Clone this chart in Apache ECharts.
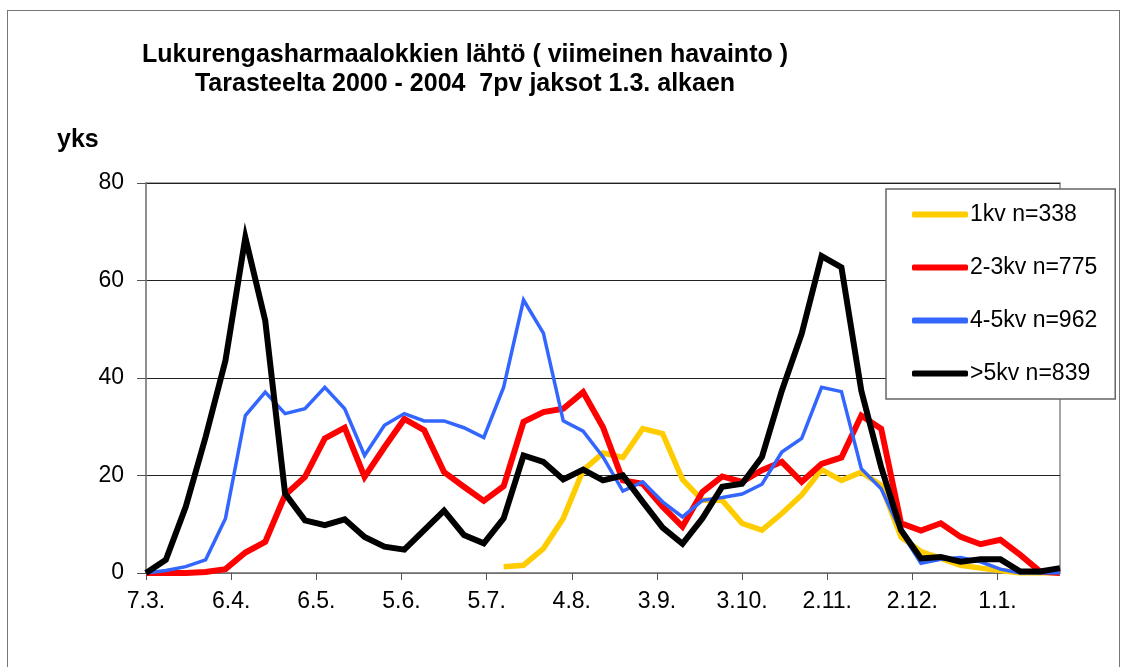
<!DOCTYPE html>
<html>
<head>
<meta charset="utf-8">
<script src="https://cdn.jsdelivr.net/npm/echarts@6/dist/echarts.min.js"></script>
<style>
    body { margin: 0; background: #fff; }
    #frame { position: absolute; left: 7px; top: 10px; width: 1113px; height: 700px; border: 1.5px solid #777; box-sizing: border-box; }
    #chart { position: absolute; left: 0; top: 0; width: 1129px; height: 667px; }
</style>
</head>
<body>
<div id="frame"></div>
<div id="chart"></div>
<script>
    // viikkojaksot, x = päivää 7.3. jälkeen
    var weekCount = 47;
    var tickLabels = ['7.3.', '6.4.', '6.5.', '5.6.', '5.7.', '4.8.', '3.9.', '3.10.', '2.11.', '2.12.', '1.1.'];
    var seriesNames = ['1kv n=338', '2-3kv n=775', '4-5kv n=962', '>5kv n=839'];

    // 1kv alkaa vasta viikolla 18
    var kv1 = [null, null, null, null, null, null, null, null, null, null, null, null, null, null, null, null, null, null,
        1.3, 1.6, 5.0, 11.2, 21.1, 24.6, 23.7, 29.6, 28.6, 19.2, 14.9, 14.9, 10.2, 8.8, 12.2, 16.0, 21.2, 19.0,
        20.7, 18.0, 7.4, 4.4, 3.0, 1.6, 1.0, 0.5, 0, 0, 0];
    var kv23 = [0, 0, 0, 0.2, 0.8, 4.2, 6.4, 16.0, 19.7, 27.6, 29.8, 19.7, 25.8, 31.6, 29.3, 20.7, 17.7, 14.8,
        17.8, 31.0, 33.0, 33.7, 37.1, 29.9, 19.0, 18.3, 13.6, 9.5, 16.6, 19.8, 18.7, 21.1, 22.8, 18.7, 22.4, 23.7,
        32.3, 29.6, 10.2, 8.7, 10.2, 7.4, 5.9, 6.8, 3.7, 0.3, 0];
    var kv45 = [0, 0.5, 1.3, 2.7, 11.2, 32.3, 37.1, 32.7, 33.7, 38.1, 33.7, 24.1, 30.3, 32.7, 31.2, 31.2, 29.8, 27.8,
        38.1, 56.0, 49.2, 31.2, 29.1, 23.8, 16.8, 18.7, 14.6, 11.5, 14.9, 15.5, 16.2, 18.2, 24.8, 27.6, 38.1, 37.2,
        21.4, 17.3, 8.5, 2.0, 2.8, 3.2, 2.3, 0.8, 0, 0, 0];
    var kv5 = [0, 2.7, 13.6, 27.9, 43.6, 68.8, 51.8, 16.3, 10.8, 9.8, 11.0, 7.4, 5.4, 4.8, 8.8, 12.8, 7.8, 6.1,
        11.2, 24.1, 22.8, 19.2, 21.2, 19.0, 20.0, 14.6, 9.3, 6.0, 11.2, 17.7, 18.3, 23.8, 37.4, 49.1, 65.0, 62.7,
        37.4, 21.7, 8.8, 3.0, 3.3, 2.3, 2.8, 2.8, 0.3, 0.3, 1.0];

    var fontName = 'Liberation Sans, Arial, sans-serif';

    function toPoints(arr) {
        return arr.map(function (v, i) {
            return [i * 7, v];
        });
    }

    function makeSeries(name, arr, color, width) {
        return {
            name: name,
            type: 'line',
            data: toPoints(arr),
            symbol: 'none',
            connectNulls: false,
            lineStyle: { color: color, width: width, join: 'miter' },
            itemStyle: { color: color },
            emphasis: { disabled: true },
            animation: false
        };
    }

    var chart = echarts.init(document.getElementById('chart'), null, { renderer: 'canvas' });

    var option = {
        backgroundColor: 'transparent',
        animation: false,
        textStyle: { fontFamily: fontName, color: '#000' },
        graphic: [
            {
                type: 'text', x: 465, y: 55,
                style: {
                    text: 'Lukurengasharmaalokkien lähtö ( viimeinen havainto )',
                    font: 'bold 25px ' + fontName, fill: '#000', align: 'center', verticalAlign: 'middle'
                }
            },
            {
                type: 'text', x: 465, y: 84,
                style: {
                    text: 'Tarasteelta 2000 - 2004  7pv jaksot 1.3. alkaen',
                    font: 'bold 25px ' + fontName, fill: '#000', align: 'center', verticalAlign: 'middle'
                }
            },
            {
                type: 'text', x: 57, y: 140,
                style: {
                    text: 'yks',
                    font: 'bold 25px ' + fontName, fill: '#000', align: 'left', verticalAlign: 'middle'
                }
            }
        ],
        legend: {
            orient: 'vertical',
            left: 886,
            top: 189,
            padding: [14, 18, 14, 26],
            itemGap: 30,
            itemWidth: 56,
            itemHeight: 6,
            icon: 'roundRect',
            backgroundColor: '#fff',
            borderColor: '#666',
            borderWidth: 1.5,
            textStyle: { fontSize: 23, lineHeight: 22, color: '#000', fontFamily: fontName, padding: [0, 0, 0, -3] },
            data: seriesNames
        },
        grid: { left: 146, right: 69, top: 183, bottom: 94, show: true, borderColor: '#888', borderWidth: 1.5 },
        xAxis: {
            type: 'value',
            min: 0,
            max: (weekCount - 1) * 7,
            interval: 30,
            axisLine: { show: true, lineStyle: { color: '#888', width: 1.5 } },
            axisTick: { show: true, length: 7, lineStyle: { color: '#555', width: 1 } },
            splitLine: { show: false },
            axisLabel: {
                fontSize: 23, color: '#000', margin: 17, showMaxLabel: false,
                formatter: function (v) {
                    if (v % 30 !== 0) return '';
                    return tickLabels[v / 30] || '';
                }
            }
        },
        yAxis: {
            type: 'value',
            min: 0,
            max: 80,
            interval: 20,
            axisLine: { show: true, lineStyle: { color: '#888', width: 1.5 } },
            axisTick: { show: true, length: 9, lineStyle: { color: '#555', width: 1 } },
            splitLine: { show: true, lineStyle: { color: '#222', width: 1 } },
            axisLabel: { fontSize: 23, color: '#000', margin: 22 }
        },
        series: [
            makeSeries(seriesNames[0], kv1, '#FFCC00', 5.5),
            makeSeries(seriesNames[1], kv23, '#FF0000', 6),
            makeSeries(seriesNames[2], kv45, '#3366FF', 3.5),
            makeSeries(seriesNames[3], kv5, '#000000', 6)
        ]
    };

    chart.setOption(option);
</script>
</body>
</html>
